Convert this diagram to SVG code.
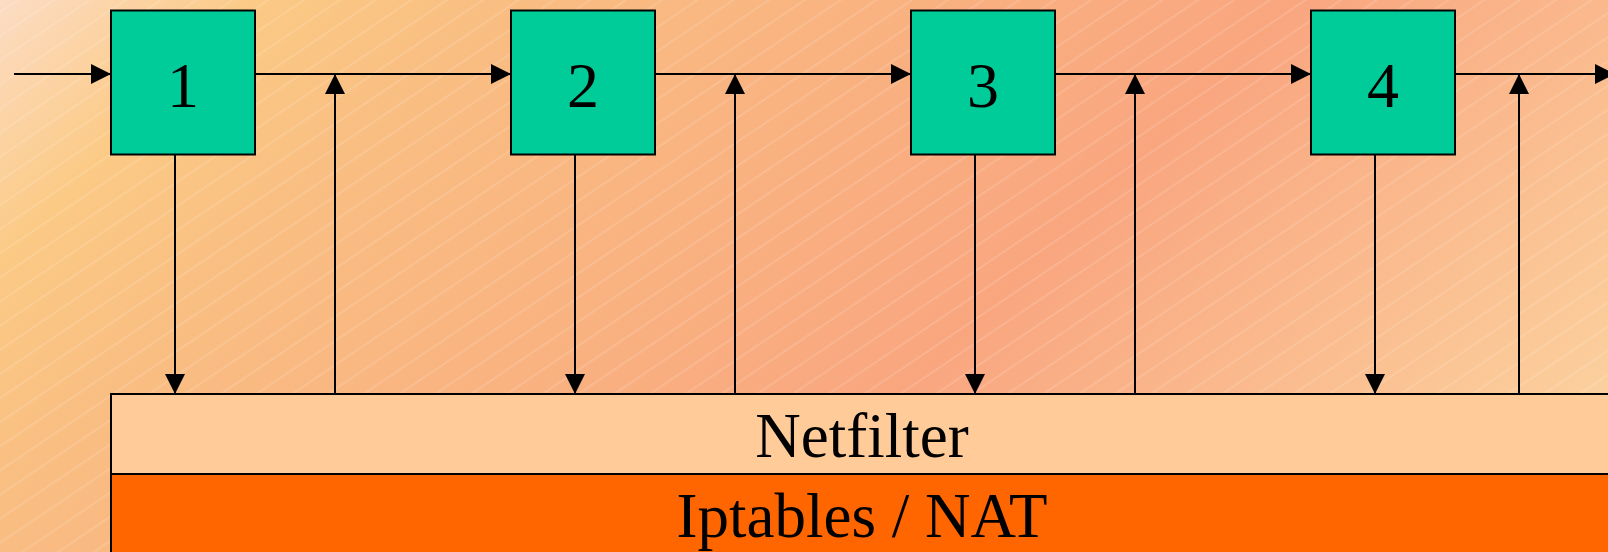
<svg xmlns="http://www.w3.org/2000/svg" width="1608" height="552" viewBox="0 0 1608 552">
  <defs>
    <linearGradient id="bg" gradientUnits="userSpaceOnUse" x1="0" y1="0" x2="1080" y2="1080">
      <stop offset="0" stop-color="#fcdcc4"/>
      <stop offset="0.12" stop-color="#fbca85"/>
      <stop offset="0.23" stop-color="#f9be82"/>
      <stop offset="0.6" stop-color="#f9a67f"/>
      <stop offset="0.88" stop-color="#fbca98"/>
      <stop offset="1" stop-color="#fcd8a8"/>
    </linearGradient>
    <pattern id="hatch" patternUnits="userSpaceOnUse" width="24" height="20" patternTransform="rotate(-34)">
      <line x1="0" y1="10" x2="24" y2="10" stroke="#ffffff" stroke-opacity="0.25" stroke-width="1"/>
    </pattern>
    <marker id="ah" markerUnits="userSpaceOnUse" markerWidth="20" markerHeight="20" refX="20" refY="10" orient="auto">
      <path d="M0,0 L20,10 L0,20 z" fill="#000"/>
    </marker>
  </defs>
  <style>
    .box { fill: #00cc99; stroke: #000; stroke-width: 2; }
    .lbl { font-family: "Liberation Serif", "Times New Roman", serif; font-size: 64px; fill: #000; text-anchor: middle; }
    .conn { stroke: #000; stroke-width: 2; fill: none; }
    .arr { marker-end: url(#ah); }
  </style>
  <rect x="0" y="0" width="1608" height="552" fill="url(#bg)"/>
  <rect x="0" y="0" width="1608" height="552" fill="url(#hatch)"/>

  <g id="connectors" class="conn">
    <line class="arr" x1="14" y1="74" x2="111" y2="74"/>
    <line class="arr" x1="255" y1="74" x2="511" y2="74"/>
    <line class="arr" x1="655" y1="74" x2="911" y2="74"/>
    <line class="arr" x1="1055" y1="74" x2="1311" y2="74"/>
    <line class="arr" x1="1455" y1="74" x2="1615" y2="74"/>
    <line class="arr" x1="175" y1="154" x2="175" y2="394"/>
    <line class="arr" x1="575" y1="154" x2="575" y2="394"/>
    <line class="arr" x1="975" y1="154" x2="975" y2="394"/>
    <line class="arr" x1="1375" y1="154" x2="1375" y2="394"/>
    <line class="arr" x1="335" y1="394" x2="335" y2="74"/>
    <line class="arr" x1="735" y1="394" x2="735" y2="74"/>
    <line class="arr" x1="1135" y1="394" x2="1135" y2="74"/>
    <line class="arr" x1="1519" y1="394" x2="1519" y2="74"/>
  </g>

  <g id="node1">
    <rect class="box" x="111" y="10.5" width="144" height="144"/>
    <text class="lbl" x="183" y="107">1</text>
  </g>
  <g id="node2">
    <rect class="box" x="511" y="10.5" width="144" height="144"/>
    <text class="lbl" x="583" y="107">2</text>
  </g>
  <g id="node3">
    <rect class="box" x="911" y="10.5" width="144" height="144"/>
    <text class="lbl" x="983" y="107">3</text>
  </g>
  <g id="node4">
    <rect class="box" x="1311" y="10.5" width="144" height="144"/>
    <text class="lbl" x="1383" y="107">4</text>
  </g>

  <g id="netfilter">
    <rect x="111" y="394" width="1503" height="80" fill="#ffcc99" stroke="#000" stroke-width="2"/>
    <text class="lbl" x="862" y="457" style="font-size:63px">Netfilter</text>
  </g>
  <g id="iptables">
    <rect x="111" y="474" width="1503" height="90" fill="#ff6600" stroke="#000" stroke-width="2"/>
    <text class="lbl" x="862" y="537" style="font-size:63px">Iptables / NAT</text>
  </g>
</svg>
